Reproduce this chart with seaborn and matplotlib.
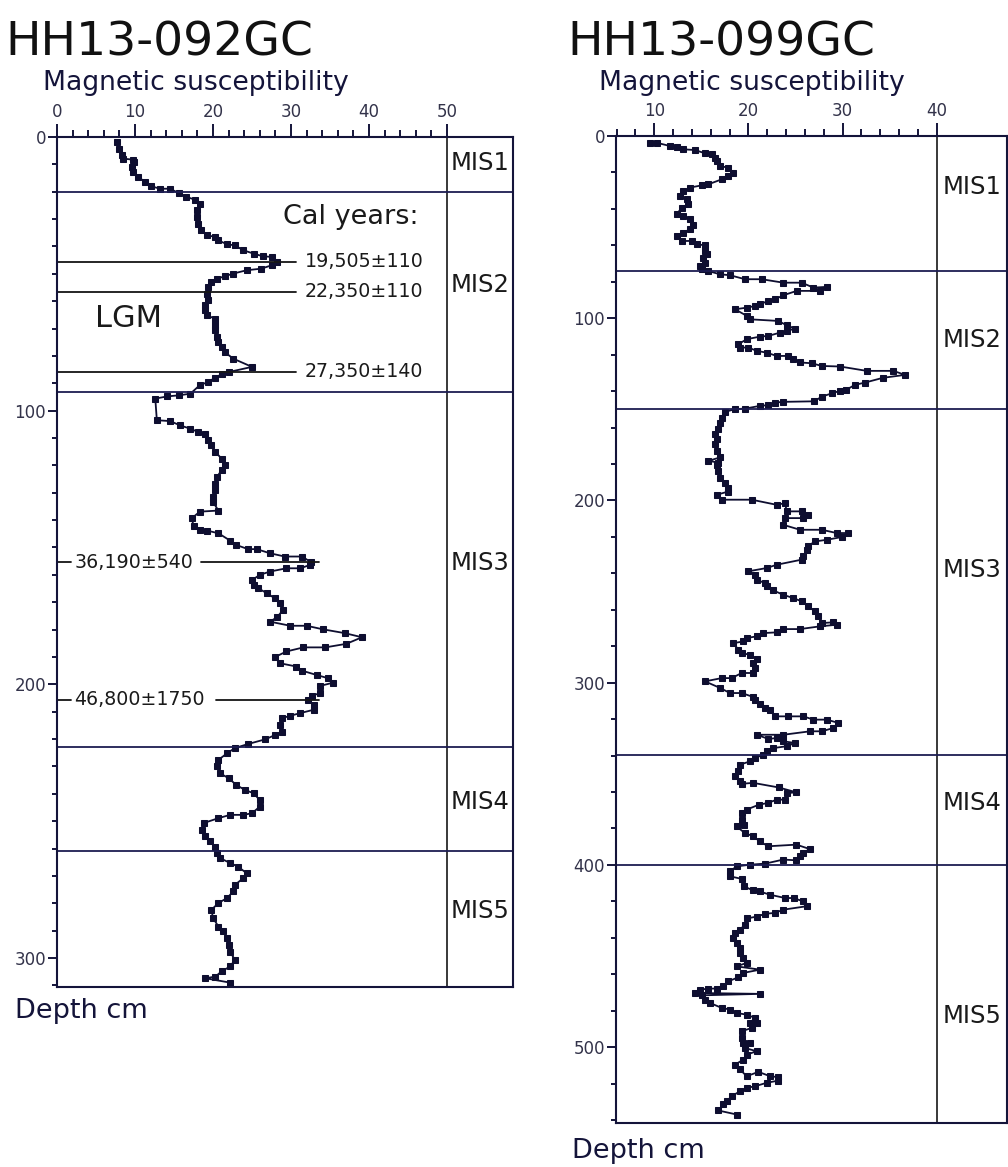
import numpy as np
import pandas as pd
import matplotlib
matplotlib.use("Agg")
import matplotlib.pyplot as plt
import seaborn as sns

# ---- core HH13-092GC: depth (cm) and magnetic susceptibility ----
depth_092 = [
    1.8, 4.3, 6.7, 7.9, 8.3, 9.3, 11.0, 12.8, 14.6, 16.4, 18.0, 18.9, 18.9, 20.5, 21.9,
    22.9, 24.4, 26.8, 29.2, 31.7, 34.1, 35.9, 36.5, 37.8, 39.2, 39.6, 41.4, 42.6, 43.6,
    43.8, 45.7, 46.9, 48.1, 48.7, 49.9, 50.9, 51.8, 53.0, 54.8, 57.2, 59.7, 61.5, 63.3,
    65.2, 66.4, 68.8, 70.6, 73.1, 74.9, 76.7, 78.6, 81.0, 84.0, 85.9, 86.7, 87.9, 89.5,
    90.7, 93.8, 94.4, 94.8, 95.6, 103.5, 103.8, 105.4, 106.6, 107.8, 108.4, 110.8, 112.7,
    115.1, 117.5, 120.0, 121.8, 124.2, 126.7, 129.1, 131.5, 133.4, 136.5, 136.9, 139.3,
    142.3, 143.6, 143.8, 144.8, 147.5, 149.1, 150.6, 150.6, 152.1, 153.3, 153.3, 155.4,
    156.4, 157.6, 157.6, 158.8, 160.0, 161.9, 163.7, 164.9, 166.7, 168.5, 170.4, 172.8,
    175.5, 177.1, 178.6, 178.6, 179.9, 181.3, 182.8, 185.2, 186.5, 186.5, 188.0, 190.1,
    192.3, 193.5, 195.0, 196.6, 197.8, 199.4, 200.6, 203.2, 204.2, 205.9, 207.5, 209.3,
    210.5, 211.5, 212.4, 214.8, 217.3, 218.6, 220.1, 221.8, 223.3, 225.2, 227.6, 230.0,
    232.5, 234.3, 236.8, 238.6, 239.8, 242.3, 244.7, 247.1, 247.7, 247.7, 248.9, 250.7,
    253.2, 255.6, 257.4, 259.3, 261.7, 263.5, 265.3, 266.6, 269.0, 270.8, 273.3, 275.7,
    278.1, 279.9, 282.4, 285.4, 288.5, 290.3, 292.8, 295.2, 297.7, 300.7, 303.1, 304.9,
    306.8, 307.4, 309.0,
]
ms_092 = [
    7.65, 7.9, 8.3, 8.5, 9.8, 9.9, 9.6, 9.8, 10.4, 11.3, 12.1, 13.2, 14.5, 15.6, 16.6,
    17.7, 18.3, 17.9, 17.9, 18.1, 18.5, 19.2, 20.3, 20.7, 21.8, 22.8, 23.9, 25.2, 26.4,
    27.5, 28.2, 27.5, 26.2, 24.3, 22.6, 21.5, 20.5, 19.8, 19.4, 19.2, 19.4, 19.0, 19.0,
    19.2, 20.3, 20.3, 20.3, 20.5, 20.7, 21.1, 21.5, 22.6, 25.0, 22.0, 21.1, 20.3, 19.4,
    18.3, 17.1, 15.6, 14.1, 12.6, 12.8, 14.5, 15.8, 17.1, 18.1, 19.0, 19.4, 19.8,
    20.3, 21.1, 21.5, 21.1, 20.5, 20.3, 20.3, 20.0, 20.0, 20.7, 18.3, 17.3,
    17.5, 18.3, 19.2, 20.7, 22.2, 23.0, 24.5, 25.6, 27.3, 29.2, 31.4, 32.6,
    32.4, 31.2, 29.4, 27.3, 26.0, 25.0, 25.2, 25.8, 26.9, 27.9, 28.6, 29.0,
    28.2, 27.3, 29.9, 32.0, 34.1, 36.9, 39.1, 37.1, 34.4, 31.6, 29.4, 27.9,
    28.6, 30.7, 31.4, 33.3, 34.8, 35.4, 33.7, 33.7, 32.7, 32.2, 32.9, 32.9,
    31.2, 29.9, 28.8, 28.6, 28.8, 27.9, 26.7, 24.5, 22.8, 21.8, 20.7, 20.5,
    20.9, 22.0, 23.0, 24.1, 25.2, 26.0, 26.0, 25.0, 23.9, 22.2, 20.7, 18.8,
    18.6, 19.0, 19.6, 20.3, 20.5, 20.9, 22.2, 23.2, 24.3, 23.9, 22.8, 22.6,
    21.8, 20.7, 19.8, 20.0, 20.7, 21.3, 21.8, 22.0, 22.2, 22.8, 22.2, 21.1,
    20.3, 19.0, 22.2,
]

# ---- core HH13-099GC ----
depth_099 = [
    3.7, 3.7, 5.5, 5.9, 7.3, 7.7, 9.5, 10.1, 11.9, 13.7, 16.5, 17.4, 20.1, 21.9, 23.8,
    26.5, 27.1, 28.3, 30.2, 32.9, 34.4, 37.5, 39.3, 43.0, 43.9, 45.7, 49.0, 51.2, 53.0,
    54.9, 57.6, 57.6, 59.4, 60.0, 63.1, 64.9, 66.7, 69.5, 71.3, 72.8, 74.1, 75.9, 76.4,
    78.6, 78.6, 80.5, 80.5, 83.2, 82.8, 85.0, 85.0, 87.4, 89.6, 90.5, 92.3, 93.3, 94.2,
    95.1, 98.7, 100.6, 101.5, 103.9, 105.7, 107.0, 107.9, 109.7, 110.1, 111.5, 114.3,
    116.1, 116.1, 117.9, 118.9, 120.7, 120.7, 122.5, 124.3, 124.7, 126.2, 126.5, 128.9,
    128.9, 131.1, 132.7, 135.3, 136.6, 139.3, 139.9, 141.2, 143.0, 145.6, 145.9, 146.3,
    147.7, 148.1, 149.6, 149.9, 151.4, 154.5, 157.3, 160.9, 163.6, 166.4, 169.1, 172.8,
    176.4, 178.3, 179.2, 180.4, 184.1, 187.8, 190.5, 193.2, 195.1, 196.9, 199.6, 199.6,
    202.4, 201.5, 206.0, 206.0, 207.9, 209.7, 209.7, 213.4, 216.1, 216.1, 217.9, 217.9,
    220.1, 221.6, 222.5, 224.9, 227.1, 230.7, 232.5, 235.3, 237.1, 238.9, 240.8, 243.5,
    245.4, 247.2, 249.4, 251.8, 253.6, 255.4, 258.2, 260.9, 263.6, 267.3, 266.9, 268.2,
    269.1, 270.6, 270.6, 272.4, 272.8, 274.6, 275.5, 277.4, 278.3, 281.9, 283.8, 284.7,
    287.0, 289.2, 292.0, 294.7, 294.7, 297.5, 297.5, 299.3, 302.9, 305.7, 305.7, 307.9,
    309.4, 311.5, 313.9, 315.2, 318.5, 318.5, 318.5, 320.3, 320.3, 322.1, 324.9, 326.7,
    326.7, 328.6, 328.6, 330.9, 330.4, 332.2, 333.1, 334.9, 335.9, 337.7, 339.5, 341.4,
    343.2, 345.0, 348.7, 351.4, 354.1, 355.5, 355.0, 357.5, 360.2, 360.6, 364.2, 364.2,
    366.0, 367.0, 369.7, 371.5, 375.2, 378.0, 378.9, 382.5, 384.3, 387.1, 389.8, 388.9,
    391.3, 393.5, 395.3, 397.5, 397.1, 399.3, 399.9, 400.8, 403.5, 406.3, 407.7, 411.8,
    414.0, 414.6, 416.4, 418.2, 418.2, 420.0, 422.7, 424.6, 426.4, 426.8, 428.4, 429.3,
    432.8, 435.5, 437.4, 440.1, 442.9, 445.6, 448.3, 451.1, 453.8, 455.7, 457.5, 459.3,
    461.7, 463.9, 466.6, 467.9, 467.9, 468.5, 470.3, 470.8, 471.6, 473.9, 475.8, 478.5,
    479.4, 481.3, 482.2, 484.0, 486.7, 486.7, 489.5, 491.3, 495.0, 497.7, 497.7, 500.5,
    502.3, 504.1, 506.9, 509.6, 512.3, 516.0, 513.6, 516.0, 516.5, 518.4, 519.6, 521.5,
    522.4, 524.2, 527.0, 529.7, 531.5, 534.8, 537.0,
]
ms_099 = [
    9.54, 10.25, 11.67, 12.38, 13.09, 14.32, 15.39, 16.1, 16.45, 16.63, 16.98, 17.87, 18.4, 17.87, 17.16,
    15.74, 15.03, 13.79, 13.09, 12.73, 13.44, 13.62, 12.91, 12.38, 13.09, 13.79, 14.15, 13.79, 13.09,
    12.38, 12.91, 13.97, 14.5, 15.39, 15.39, 15.57, 15.21, 15.39, 14.86, 15.03, 15.74, 16.98, 18.04,
    19.64, 21.41, 23.71, 25.66, 26.9, 28.32, 27.6, 25.13, 23.71, 22.83, 22.12, 21.23, 20.7, 19.82,
    18.58, 19.82, 20.17, 23.18, 24.07, 24.95, 24.07, 23.36, 22.12, 21.23, 19.82, 18.93,
    19.11, 19.99, 20.88, 21.94, 23.0, 24.24, 24.77, 25.48, 26.72, 27.79, 29.73, 32.57,
    35.4, 36.64, 34.3, 32.4, 31.3, 30.4, 29.7, 28.9, 27.8, 27.0, 23.71, 22.83,
    22.12, 21.23, 19.64, 18.58, 17.51, 17.16, 16.98, 16.8, 16.45, 16.63, 16.45, 16.63,
    16.98, 15.74, 16.8, 16.63, 16.8, 16.98, 17.51, 17.87, 17.87, 16.63, 17.16, 20.35,
    23.0, 23.89, 24.07, 25.66, 26.37, 25.84, 23.89, 23.71, 25.48, 27.79, 29.38, 30.62,
    29.91, 28.32, 27.08, 26.37, 26.19, 25.84, 25.66, 23.0, 21.94, 19.99, 20.7, 20.88,
    21.76, 21.94, 22.65, 23.71, 24.77, 25.66, 26.37, 27.08, 27.43, 27.79, 29.03, 29.38,
    27.61, 25.48, 23.71, 23.0, 21.59, 20.88, 19.82, 19.46, 18.4, 18.93, 19.29, 20.17,
    20.88, 20.53, 20.7, 20.53, 19.29, 18.22, 17.16, 15.39, 16.98, 18.04, 19.29, 20.53,
    20.7, 21.23, 21.76, 22.3, 22.83, 24.24, 25.84, 26.9, 28.32, 29.56, 29.03, 27.79,
    26.55, 23.71, 20.88, 22.12, 23.0, 23.71, 24.95, 24.07, 22.65, 21.94, 21.59, 20.7,
    20.17, 19.11, 18.93, 18.58, 19.11, 19.3, 20.5, 23.2, 25.1, 24.1, 23.9, 23.0,
    22.1, 21.1, 19.8, 19.3, 19.3, 19.5, 18.76, 19.6, 20.5, 21.2, 22.1, 25.1,
    26.5, 25.8, 25.5, 25.1, 23.7, 21.8, 20.2, 18.76, 18.04, 18.04, 19.3, 19.5,
    20.5, 21.2, 22.3, 23.9, 24.8, 25.8, 26.2, 23.7, 22.8, 21.8, 20.9, 19.9,
    19.64, 19.11, 18.58, 18.4, 18.75, 19.11, 19.11, 19.46, 19.82, 18.75, 21.23, 19.46,
    18.93, 17.87, 17.34, 16.63, 15.74, 14.86, 14.32, 21.23, 15.03, 15.39, 15.92, 17.16,
    18.04, 18.75, 19.82, 20.7, 20.17, 20.88, 20.35, 19.29, 19.29, 19.46, 20.17, 19.64,
    20.88, 19.82, 19.46, 18.58, 19.11, 19.82, 21.06, 22.3, 23.18, 23.18, 21.94, 20.7,
    19.82, 19.11, 18.22, 17.69, 17.34, 16.8, 18.75,
]

# stage boundaries (cm) and label depths
mis_bounds_092 = [20, 93.2, 223, 261]
mis_bounds_099 = [74, 150, 339.5, 400]
mis_labels = ["MIS1", "MIS2", "MIS3", "MIS4", "MIS5"]
mis_label_depth_092 = [9.5, 54, 155.6, 243, 283]
mis_label_depth_099 = [28, 112, 238, 366, 483]

# radiocarbon dates on HH13-092GC
cal_labels = ["19,505±110", "22,350±110", "27,350±140"]
cal_depths = [45.5, 56.5, 85.7]
cal_labels_deep = ["36,190±540", "46,800±1750"]
cal_depths_deep = [155.4, 205.7]

INK = "#14143a"
LINE = "#0e0e30"

sns.set_theme(style="white")
plt.rcParams["font.family"] = ["DejaVu Sans"]

fig = plt.figure(figsize=(10.08, 11.67), dpi=100)
W, H = 1008.0, 1167.0


def box(l, t, r, b):
    return [l / W, 1 - b / H, (r - l) / W, (b - t) / H]


ax1 = fig.add_axes(box(57, 137, 513, 987))
ax2 = fig.add_axes(box(616, 136, 1006.7, 1122.7))


def style_axis(ax, xlim, ylim, xmajor, xminor, ymajor, yminor, split):
    ax.set_xlim(*xlim)
    ax.set_ylim(*ylim)
    ax.xaxis.tick_top()
    ax.set_xticks(xmajor)
    ax.set_xticks(xminor, minor=True)
    ax.set_yticks(ymajor)
    ax.set_yticks(yminor, minor=True)
    ax.tick_params(axis="x", which="major", direction="out", length=9.5, width=1.4,
                   color=INK, labelsize=12, labelcolor="#33334a", pad=2,
                   top=True, bottom=False, labeltop=True, labelbottom=False)
    ax.tick_params(axis="x", which="minor", direction="out", length=5, width=1.4,
                   color=INK, top=True, bottom=False)
    ax.tick_params(axis="y", which="major", direction="out", length=6.5, width=1.4,
                   color=INK, labelsize=12, labelcolor="#33334a", pad=1.5, left=True)
    ax.tick_params(axis="y", which="minor", direction="out", length=3.6, width=1.4,
                   color=INK, left=True)
    for sp in ax.spines.values():
        sp.set_color(INK)
        sp.set_linewidth(1.5)
    ax.axvline(split, color="#2a2a2a", lw=1.3)
    ax.set_xlabel("")
    ax.set_ylabel("")


def draw_core(ax, ms, depth):
    df = pd.DataFrame({"ms": ms, "depth": depth})
    sns.lineplot(data=df, x="ms", y="depth", sort=False, estimator=None, ax=ax,
                 color=LINE, lw=1.3, marker="s", markersize=4.5,
                 markeredgecolor=LINE, markerfacecolor=LINE)


# ---------------- left core ----------------
draw_core(ax1, ms_092, depth_092)
style_axis(ax1, (0, 58.46), (310.6, 0), np.arange(0, 51, 10), np.arange(0, 51, 2),
           np.arange(0, 301, 100), np.arange(0, 311, 10), 50)
for d in mis_bounds_092:
    ax1.axhline(d, color="#1c1c52", lw=1.3)
for lab, d in zip(mis_labels, mis_label_depth_092):
    ax1.text(54.23, d, lab, ha="center", va="center", fontsize=17.5, color="#1a1a1a")
for lab, d in zip(cal_labels, cal_depths):
    ax1.plot([0, 30.7], [d, d], color="#151515", lw=1.3)
    ax1.text(31.8, d, lab, ha="left", va="center", fontsize=13.7, color="#1a1a1a")
for lab, d, x0 in zip(cal_labels_deep, cal_depths_deep, [18.5, 20.4]):
    ax1.plot([0, 1.8], [d, d], color="#151515", lw=1.3)
    ax1.plot([x0, 33.6], [d, d], color="#151515", lw=1.3)
    ax1.text(2.2, d, lab, ha="left", va="center", fontsize=13.7, color="#1a1a1a")
ax1.text(37.6, 29.2, "Cal years:", ha="center", va="center", fontsize=19.5, color="#1a1a1a")
ax1.text(9.2, 66.2, "LGM", ha="center", va="center", fontsize=22, color="#1a1a1a")

# ---------------- right core ----------------
draw_core(ax2, ms_099, depth_099)
style_axis(ax2, (5.93, 47.44), (541.5, 0), np.arange(10, 41, 10), np.arange(6, 41, 2),
           np.arange(0, 501, 100), np.arange(0, 541, 20), 40)
for d in mis_bounds_099:
    ax2.axhline(d, color="#1c1c52", lw=1.3)
for lab, d in zip(mis_labels, mis_label_depth_099):
    ax2.text(43.72, d, lab, ha="center", va="center", fontsize=17.5, color="#1a1a1a")

# ---------------- figure text ----------------
fig.text(5 / W, 1 - 56 / H, "HH13-092GC", fontsize=34, color="#111111", va="baseline")
fig.text(567 / W, 1 - 56 / H, "HH13-099GC", fontsize=34, color="#111111", va="baseline")
fig.text(43 / W, 1 - 90 / H, "Magnetic susceptibility", fontsize=19.2, color=INK, va="baseline")
fig.text(599 / W, 1 - 90 / H, "Magnetic susceptibility", fontsize=19.2, color=INK, va="baseline")
fig.text(15 / W, 1 - 1018 / H, "Depth cm", fontsize=19.5, color=INK, va="baseline")
fig.text(572 / W, 1 - 1158 / H, "Depth cm", fontsize=19.5, color=INK, va="baseline")

fig.savefig("out.png", dpi=100)
